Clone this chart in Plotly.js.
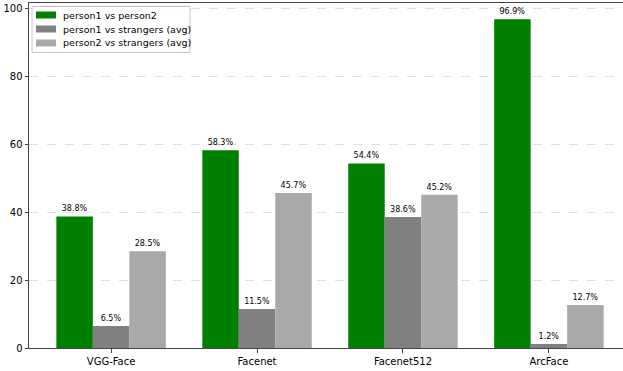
<!DOCTYPE html>
<html><head><meta charset="utf-8">
<script src="https://cdn.plot.ly/plotly-3.0.1.min.js"></script>
<style>html,body{margin:0;padding:0;overflow:hidden;background:#fff;width:623px;height:371px}</style>
</head><body><div id="chart"></div>
<script>
const categories = ["VGG-Face", "Facenet", "Facenet512", "ArcFace"];
const seriesNames = ["person1 vs person2", "person1 vs strangers (avg)", "person2 vs strangers (avg)"];
const person1VsPerson2 = [38.8, 58.3, 54.4, 96.9];
const person1VsStrangers = [6.5, 11.5, 38.6, 1.2];
const person2VsStrangers = [28.5, 45.7, 45.2, 12.7];
const yTicks = [0, 20, 40, 60, 80, 100];

const colors = ["#008000", "#808080", "#a9a9a9"];
const values = [person1VsPerson2, person1VsStrangers, person2VsStrangers];
const font = "DejaVu Sans, sans-serif";

const traces = values.map((v, i) => ({
  type: "bar", x: categories, y: v, name: seriesNames[i],
  marker: {color: colors[i], line: {width: 0}},
  text: v.map(d => d.toFixed(1) + "%"), textposition: "outside",
  textfont: {family: font, size: 8, color: "#000"}, cliponaxis: false,
  showlegend: false
}));

// plot area in pixels (for legend placement)
const L = 29, R = 631, T = 3, B = 348;
const px = x => (x - L) / (R - L);
const py = y => 1 - (y - T) / (B - T);

const shapes = [];
const annotations = [];
// legend box
shapes.push({type: "rect", xref: "paper", yref: "paper", layer: "above",
  x0: px(32), x1: px(190), y0: py(52.5), y1: py(6.5),
  fillcolor: "rgba(255,255,255,0.85)", line: {color: "#c4c4c4", width: 1}});
seriesNames.forEach((name, i) => {
  const cy = 15 + i * 14;
  shapes.push({type: "rect", xref: "paper", yref: "paper", layer: "above",
    x0: px(36), x1: px(56), y0: py(cy + 3.5), y1: py(cy - 3.5),
    fillcolor: colors[i], line: {width: 0}});
  annotations.push({xref: "paper", yref: "paper", x: px(61), y: py(cy),
    xanchor: "left", yanchor: "middle", text: name, showarrow: false,
    font: {family: font, size: 9.5, color: "#000"}});
});

const layout = {
  width: 640, height: 371,
  margin: {l: L, r: 640 - R, t: T, b: 371 - B},
  paper_bgcolor: "#fff", plot_bgcolor: "#fff",
  barmode: "group", bargap: 0.25, bargroupgap: 0,
  font: {family: font, size: 10, color: "#000"},
  showlegend: false,
  shapes: shapes, annotations: annotations,
  xaxis: {range: [-0.5625, 3.5625], showline: true, linecolor: "#444", linewidth: 1,
    mirror: true, ticks: "outside", ticklen: 3.5, tickcolor: "#444",
    showgrid: false, tickfont: {family: font, size: 10}, zeroline: false},
  yaxis: {range: [0, 101.7], tickvals: yTicks, showline: true, linecolor: "#444", linewidth: 1,
    mirror: true, ticks: "outside", ticklen: 3.5, tickcolor: "#444",
    showgrid: true, gridcolor: "#d8d8d8", griddash: "dash", gridwidth: 0.8,
    tickfont: {family: font, size: 10}, zeroline: false}
};
Plotly.newPlot("chart", traces, layout, {displayModeBar: false, staticPlot: true});
</script></body></html>
